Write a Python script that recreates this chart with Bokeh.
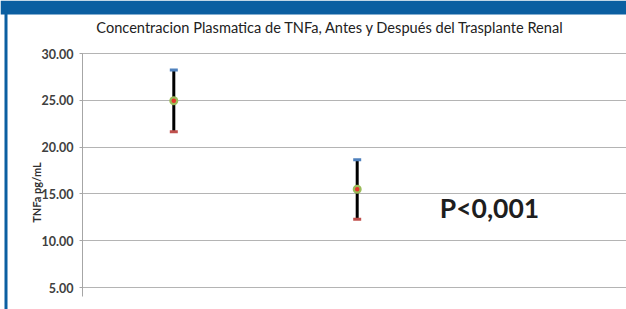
import math
from bokeh.plotting import figure
from bokeh.models import (Range1d, LinearAxis, Grid, FixedTicker, PrintfTickFormatter,
                          ColumnDataSource)
from bokeh.core.properties import value
from bokeh.embed import file_html
from bokeh.resources import INLINE

# ---- data ----
categories = ["Antes", "Después"]
cat_pos = [1, 2]
means = [24.95, 15.5]
highs = [28.25, 18.65]
lows = [21.65, 12.3]
y_ticks = [5, 10, 15, 20, 25, 30]
title_text = "Concentracion Plasmatica de TNFa, Antes y Después del Trasplante Renal"
ylabel_text = "TNFa pg/mL"
pvalue_text = "P<0,001"

# ---- layout (pixel geometry of the canvas) ----
W, H = 626, 309
PX_X1 = 173.3          # pixel x of category 1
PX_DX = 183.4          # pixels per category
PX_Y30 = 53.0          # pixel y of value 30
PX_PER_UNIT = 9.36     # pixels per unit of y

def dx(px):
    return 1 + (px - PX_X1) / PX_DX

def dy(py):
    return 30 - (py - PX_Y30) / PX_PER_UNIT

p = figure(width=W, height=H, output_backend="svg", toolbar_location=None, title=None,
           x_range=Range1d(dx(0), dx(W)), y_range=Range1d(dy(H), dy(0)),
           x_axis_location=None, y_axis_location=None,
           min_border=0, min_border_left=0, min_border_right=0,
           min_border_top=0, min_border_bottom=0)
p.outline_line_color = None
p.background_fill_color = "white"
p.border_fill_color = "white"
p.xgrid.visible = False
p.ygrid.visible = False

ticker = FixedTicker(ticks=y_ticks)
axis_x = dx(82)
grid = Grid(dimension=1, ticker=ticker, cross_bounds=(dx(80), dx(W)),
            grid_line_color="#b4b4b4", grid_line_width=1)
p.add_layout(grid)

yaxis = LinearAxis(fixed_location=axis_x, ticker=ticker,
                   formatter=PrintfTickFormatter(format="%.2f"),
                   bounds=(dy(296), 30))
yaxis.axis_line_color = "#a6a6a6"
yaxis.major_tick_line_color = "#a6a6a6"
yaxis.major_tick_out = 3
yaxis.major_tick_in = 0
yaxis.minor_tick_line_color = None
yaxis.major_label_standoff = 6
yaxis.major_label_text_font = "Lato"
yaxis.major_label_text_font_style = "bold"
yaxis.major_label_text_font_size = "12.5px"
yaxis.major_label_text_color = "#404040"
p.add_layout(yaxis, "left")

# frame decorations (slide border): band along the top, rule down the left
p.quad(left=dx(0), right=dx(W), top=dy(0), bottom=dy(14), color="#0b5fa1", line_color=None)
p.quad(left=dx(4), right=dx(7), top=dy(5), bottom=dy(H + 2), color="#0b5fa1", line_color=None)

src = ColumnDataSource(dict(x=cat_pos, mean=means, high=highs, low=lows, cat=categories))
p.segment(x0="x", y0="low", x1="x", y1="high", source=src, line_color="black", line_width=3)
p.rect(x="x", y="high", width=8, height=3, width_units="screen", height_units="screen",
       source=src, fill_color="#4f81bd", line_color=None)
p.rect(x="x", y="low", width=8, height=3, width_units="screen", height_units="screen",
       source=src, fill_color="#c0504d", line_color=None)
p.scatter(x="x", y="mean", source=src, size=9, marker="circle",
          fill_color="#9bbb59", line_color=None)
p.scatter(x="x", y="mean", source=src, size=4.5, marker="circle",
          fill_color="#e8352b", line_color=None)

# texts
p.text(x=[dx(330)], y=[dy(27)], text=[title_text], text_font=value("Lato"),
       text_font_size="14.6px", text_color="#222222", text_align="center",
       text_baseline="middle")
p.text(x=[dx(36)], y=[dy(192)], text=[ylabel_text], text_font=value("Lato"),
       text_font_size="11px", text_font_style="bold", text_color="#303030",
       text_align="center", text_baseline="middle", angle=math.pi / 2)
p.text(x=[dx(489)], y=[dy(207)], text=[pvalue_text], text_font=value("Lato"),
       text_font_size="26.5px", text_font_style="bold", text_color="#1e1e1e",
       text_align="center", text_baseline="middle")

open("out.html", "w").write(file_html(p, INLINE))
